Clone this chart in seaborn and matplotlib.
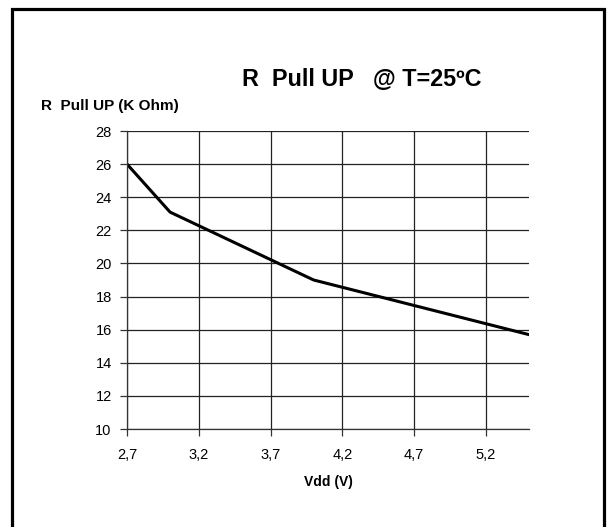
import matplotlib
matplotlib.use("Agg")
import matplotlib.pyplot as plt
from matplotlib.patches import Rectangle
import seaborn as sns
import pandas as pd

# Pull-up resistance versus supply voltage at 25 °C
vdd = [2.7, 3.0, 4.0, 5.5]
r_pullup = [26.0, 23.1, 19.0, 15.7]
x_ticks = [2.7, 3.2, 3.7, 4.2, 4.7, 5.2]
x_tick_labels = ["2,7", "3,2", "3,7", "4,2", "4,7", "5,2"]
y_ticks = [10, 12, 14, 16, 18, 20, 22, 24, 26, 28]

sns.set_theme(style="white")
plt.rcParams["font.family"] = ["Liberation Sans", "DejaVu Sans"]
plt.rcParams["text.color"] = "black"
plt.rcParams["axes.labelcolor"] = "black"

df = pd.DataFrame({"Vdd": vdd, "R": r_pullup})

fig = plt.figure(figsize=(6.07, 5.27), dpi=100)
fig.patch.set_facecolor("white")
ax = fig.add_axes([127 / 607, 1 - 429 / 527, (529 - 127) / 607, (429 - 131) / 527])

sns.lineplot(data=df, x="Vdd", y="R", ax=ax, color="black", linewidth=2.2,
             estimator=None, sort=False)

ax.set_xlim(2.7, 5.5)
ax.set_ylim(10, 28)
ax.set_xticks(x_ticks)
ax.set_xticklabels(x_tick_labels)
ax.set_yticks(y_ticks)
ax.set_yticklabels([str(v) for v in y_ticks])

ax.grid(True, color="#222222", linewidth=0.9)
ax.set_axisbelow(True)
for side in ("top", "right"):
    ax.spines[side].set_visible(False)
for side in ("left", "bottom"):
    ax.spines[side].set_color("#333333")
    ax.spines[side].set_linewidth(0.9)

ax.tick_params(axis="both", which="major", direction="out", length=5,
               width=0.9, color="#333333", labelsize=10.5, labelcolor="black",
               left=True, bottom=True, pad=6)
ax.tick_params(axis="x", pad=9)

ax.set_xlabel("Vdd (V)", fontsize=10, fontweight="bold", labelpad=9,
              color="black")
ax.set_ylabel("")

fig.text(41 / 607, 1 - 106 / 527, "R  Pull UP (K Ohm)", fontsize=11,
         fontweight="bold", ha="left", va="center", color="black")
fig.text(362 / 607, 1 - 80 / 527, "R  Pull UP   @ T=25ºC", fontsize=16.8,
         fontweight="bold", ha="center", va="center", color="black")

# Outer frame around the chart
fig.patches.append(Rectangle((11.5 / 607, -0.05), (604 - 11.5) / 607, 1.05 - 8.5 / 527,
                             transform=fig.transFigure, fill=False,
                             edgecolor="black", linewidth=2.3))

fig.savefig("out.png", dpi=100)
